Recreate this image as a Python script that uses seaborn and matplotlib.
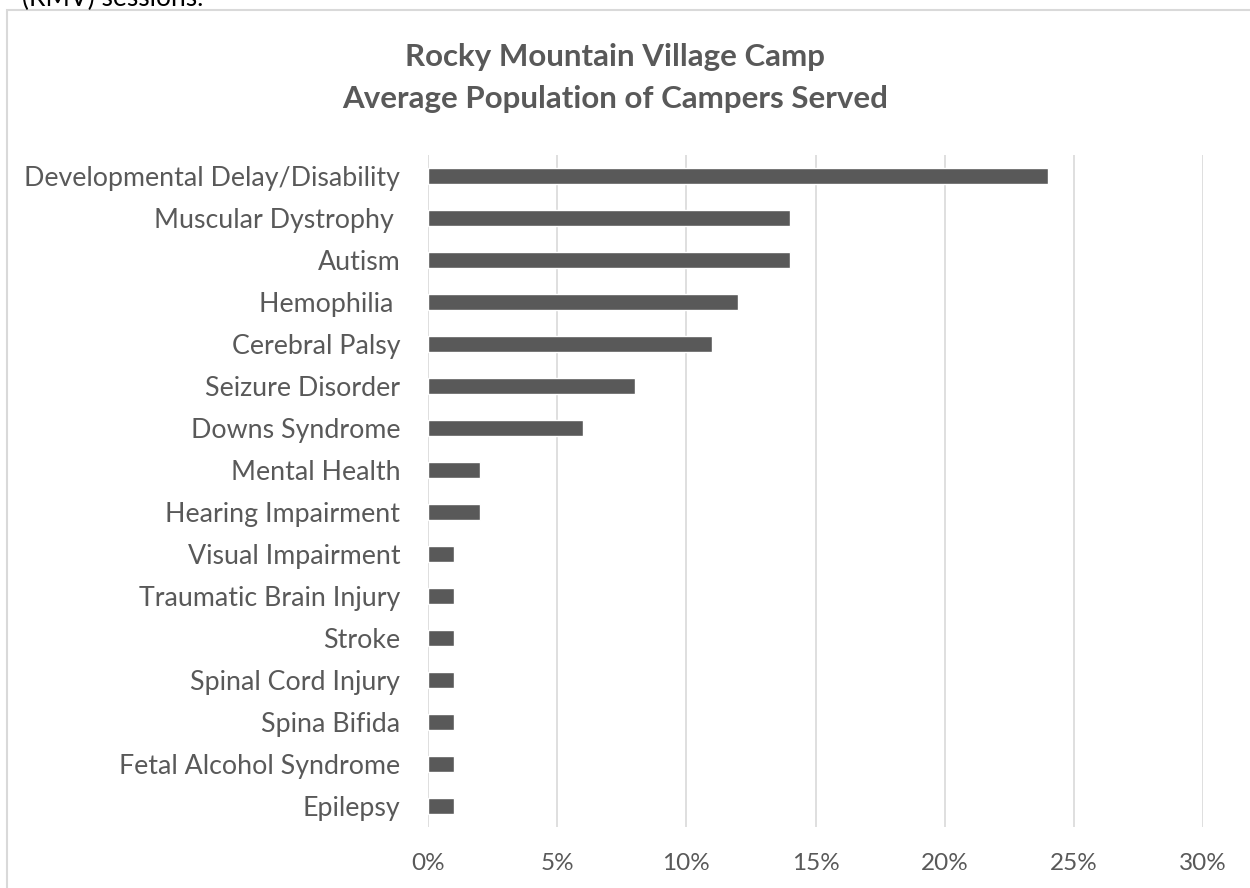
import matplotlib
matplotlib.use("Agg")
import matplotlib.pyplot as plt
import matplotlib.patches as mpatches
from matplotlib.ticker import PercentFormatter
import seaborn as sns
import pandas as pd

categories = [
    "Developmental Delay/Disability", "Muscular Dystrophy ", "Autism", "Hemophilia ",
    "Cerebral Palsy", "Seizure Disorder", "Downs Syndrome", "Mental Health",
    "Hearing Impairment", "Visual Impairment", "Traumatic Brain Injury", "Stroke",
    "Spinal Cord Injury", "Spina Bifida", "Fetal Alcohol Syndrome", "Epilepsy",
]
values = [0.24, 0.14, 0.14, 0.12, 0.11, 0.08, 0.06, 0.02,
          0.02, 0.01, 0.01, 0.01, 0.01, 0.01, 0.01, 0.01]
x_ticks = [0, 0.05, 0.10, 0.15, 0.20, 0.25, 0.30]
title = "Rocky Mountain Village Camp\nAverage Population of Campers Served"

sns.set_theme(style="white")
plt.rcParams["font.family"] = ["Lato", "DejaVu Sans"]

df = pd.DataFrame({"cat": categories, "val": values})

fig = plt.figure(figsize=(12.5, 8.88), dpi=100)
ax = fig.add_axes([428 / 1250, 1 - 827 / 888, 775 / 1250, 672 / 888])

sns.barplot(data=df, x="val", y="cat", orient="h", color="#595959",
            saturation=1, width=0.36, ax=ax, zorder=3)

ax.set_xlim(0, 0.30)
ax.set_ylim(15.5, -0.5)
ax.set_xticks(x_ticks)
ax.xaxis.set_major_formatter(PercentFormatter(1.0, decimals=0))
ax.grid(axis="x", color="#d9d9d9", linewidth=1.2, zorder=0)
ax.grid(axis="y", visible=False)
for s in ax.spines.values():
    s.set_visible(False)
ax.tick_params(axis="y", length=0, pad=20, labelsize=19.3, labelcolor="#595959")
ax.tick_params(axis="x", length=0, pad=19, labelsize=17.5, labelcolor="#595959")
ax.set_xlabel("")
ax.set_ylabel("")

fig.text(615 / 1250, 1 - 78 / 888, title, ha="center", va="center",
         fontsize=22.5, fontweight="bold", color="#595959", linespacing=1.6)

# outer chart frame
frame = mpatches.Rectangle((7 / 1250, -0.1), 1.2, 1.1 - 10 / 888,
                           transform=fig.transFigure, fill=False,
                           edgecolor="#d9d9d9", linewidth=1.5, clip_on=False)
fig.patches.append(frame)

# cut-off text from the page above
fig.text(0.018, 1 - 6 / 888, "(RMV) sessions.", ha="left", va="baseline",
         fontsize=19, color="#000000")

fig.savefig("out.png", dpi=100)
